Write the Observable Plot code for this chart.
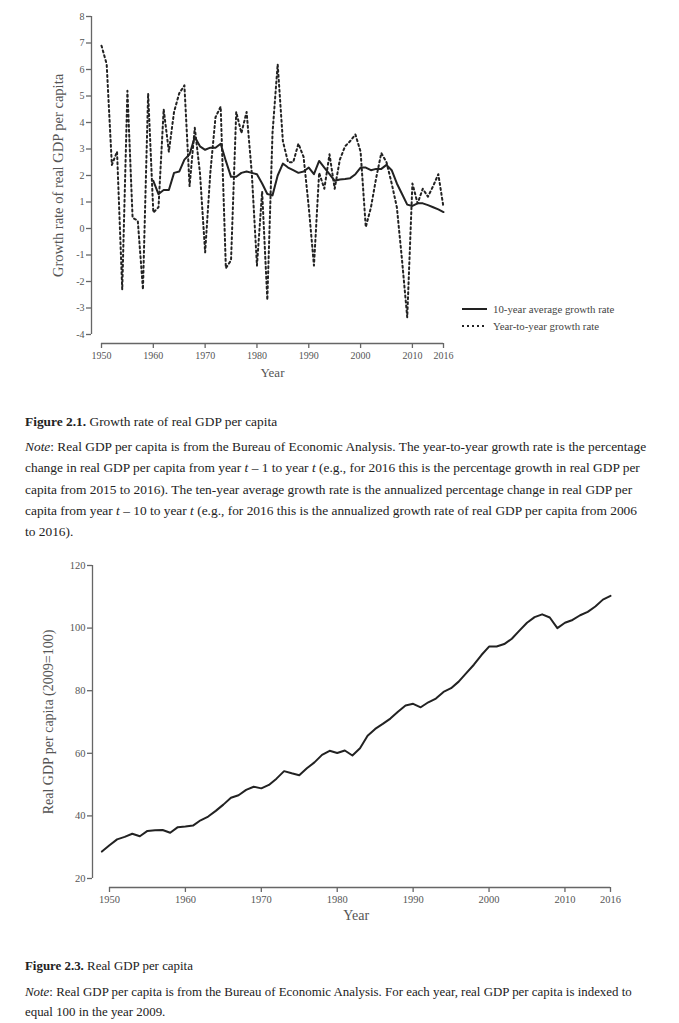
<!DOCTYPE html>
<html>
<head>
<meta charset="utf-8">
<script src="https://cdn.jsdelivr.net/npm/d3@7"></script>
<script src="https://cdn.jsdelivr.net/npm/@observablehq/plot@0.6"></script>
<style>
  html, body { margin: 0; padding: 0; background: #fff; }
  body { width: 679px; height: 1023px; position: relative; overflow: hidden; font-family: "Liberation Serif", serif; }
  #c1 { position: absolute; left: 0; top: 0; }
  #c2 { position: absolute; left: 0; top: 545px; }
  .cap { position: absolute; left: 25px; font-family: "Liberation Serif", serif; font-size: 13.4px; color: #222; white-space: nowrap; }
  .cap.small { font-size: 12.9px; }
  .cap b { font-weight: bold; }
  .legend { position: absolute; left: 462px; font-family: "Liberation Serif", serif; font-size: 10.8px; color: #444; white-space: nowrap; display: flex; align-items: center; }
  .legend svg { margin-right: 6px; }
</style>
</head>
<body>
<div id="c1"></div>
<div id="c2"></div>

<div class="legend" style="top:303px"><svg width="25" height="6"><line x1="0" x2="25" y1="3" y2="3" stroke="#222" stroke-width="2"/></svg>10-year average growth rate</div>
<div class="legend" style="top:320px"><svg width="25" height="6"><line x1="0" x2="25" y1="3" y2="3" stroke="#222" stroke-width="2" stroke-dasharray="2,3"/></svg>Year-to-year growth rate</div>

<div class="cap" style="top:411px;line-height:21.3px"><b>Figure 2.1.</b> Growth rate of real GDP per capita</div>
<div class="cap" style="top:436px;line-height:21.3px">
<div><i>Note</i>: Real GDP per capita is from the Bureau of Economic Analysis. The year-to-year growth rate is the percentage</div>
<div>change in real GDP per capita from year <i>t</i> – 1 to year <i>t</i> (e.g., for 2016 this is the percentage growth in real GDP per</div>
<div>capita from 2015 to 2016). The ten-year average growth rate is the annualized percentage change in real GDP per</div>
<div>capita from year <i>t</i> – 10 to year <i>t</i> (e.g., for 2016 this is the annualized growth rate of real GDP per capita from 2006</div>
<div>to 2016).</div>
</div>

<div class="cap small" style="top:956px;line-height:21px"><b>Figure 2.3.</b> Real GDP per capita</div>
<div class="cap small" style="top:982px;line-height:20px">
<div><i>Note</i>: Real GDP per capita is from the Bureau of Economic Analysis. For each year, real GDP per capita is indexed to</div>
<div>equal 100 in the year 2009.</div>
</div>

<script>
// ---- Figure 2.1 data ----
const yoyStart = 1950;
const yoyGrowth = [
  6.9, 6.2, 2.4, 2.9, -2.3, 5.2, 0.4, 0.3, -2.3, 5.1,
  0.6, 0.8, 4.5, 2.9, 4.4, 5.1, 5.4, 1.6, 3.8, 2.1,
  -0.9, 2.1, 4.2, 4.6, -1.5, -1.2, 4.4, 3.6, 4.4, 2.1,
  -1.4, 1.4, -2.7, 3.6, 6.2, 3.3, 2.5, 2.5, 3.2, 2.7,
  0.8, -1.4, 2.1, 1.5, 2.8, 1.5, 2.6, 3.1, 3.3, 3.55,
  2.9, 0.05, 0.8, 1.9, 2.85, 2.5, 1.7, 0.8, -1.2, -3.35,
  1.7, 0.95, 1.5, 1.2, 1.6, 2.05, 0.8
];
const avgStart = 1960;
const avg10Growth = [
  1.8, 1.3, 1.45, 1.45, 2.1, 2.15, 2.6, 2.8, 3.45, 3.1,
  2.97, 3.05, 3.05, 3.2, 2.55, 1.95, 1.95, 2.1, 2.15, 2.1,
  2.05, 1.7, 1.3, 1.25, 2.0, 2.45, 2.3, 2.2, 2.1, 2.15,
  2.3, 2.05, 2.55, 2.3, 2.05, 1.8, 1.85, 1.87, 1.9, 2.05,
  2.3, 2.3, 2.2, 2.25, 2.25, 2.4, 2.2, 1.7, 1.3, 0.9,
  0.85, 0.95, 0.95, 0.88, 0.8, 0.72, 0.62
];
const yTicks1 = [-4, -3, -2, -1, 0, 1, 2, 3, 4, 5, 6, 7, 8];
const xTicks = [1950, 1960, 1970, 1980, 1990, 2000, 2010, 2016];

// ---- Figure 2.3 data ----
const gdpStart = 1949;
const gdpIndex = [
  28.6,
  30.6, 32.5, 33.3, 34.3, 33.5, 35.2, 35.4, 35.5, 34.6, 36.4,
  36.6, 36.9, 38.6, 39.8, 41.6, 43.6, 45.8, 46.6, 48.3, 49.3,
  48.8, 49.9, 51.9, 54.3, 53.6, 53.0, 55.2, 57.1, 59.5, 60.8,
  60.1, 60.9, 59.3, 61.6, 65.6, 67.8, 69.4, 71.1, 73.3, 75.3,
  75.8, 74.7, 76.3, 77.5, 79.6, 80.8, 82.9, 85.6, 88.3, 91.4,
  94.1, 94.1, 94.9, 96.6, 99.2, 101.7, 103.5, 104.4, 103.4, 100.0,
  101.7, 102.6, 104.1, 105.2, 106.9, 109.1, 110.3
];
const yTicks2 = [20, 40, 60, 80, 100, 120];

const yoyData = yoyGrowth.map((v, i) => ({year: yoyStart + i, v}));
const avgData = avg10Growth.map((v, i) => ({year: avgStart + i, v}));
const gdpData = gdpIndex.map((v, i) => ({year: gdpStart + i, v}));

const fmt = d => String(d);
const axisColor = "#666";

const p1 = Plot.plot({
  width: 679, height: 390,
  marginLeft: 101, marginRight: 236, marginTop: 16, marginBottom: 56,
  style: {fontFamily: "Liberation Serif, serif", fontSize: "10px", color: "#555", background: "transparent", overflow: "visible"},
  x: {domain: [1950, 2016], axis: null},
  y: {domain: [-4, 8], axis: null},
  marks: [
    Plot.ruleX([1950], {y1: -4, y2: 8, dx: -10, stroke: axisColor, strokeWidth: 1.3}),
    Plot.axisY({ticks: yTicks1, tickFormat: fmt, dx: -10, tickSize: 5, tickPadding: 2, label: null, stroke: axisColor, strokeWidth: 1.3}),
    Plot.ruleY([-4], {x1: 1950, x2: 2016, dy: 9, stroke: axisColor, strokeWidth: 1.3}),
    Plot.axisX({ticks: xTicks, tickFormat: fmt, dy: 9, tickSize: 5, tickPadding: 3, label: null, stroke: axisColor, strokeWidth: 1.3}),
    Plot.line(yoyData, {x: "year", y: "v", stroke: "#222", strokeWidth: 2, strokeDasharray: "2,3"}),
    Plot.line(avgData, {x: "year", y: "v", stroke: "#222", strokeWidth: 2}),
    Plot.text(["Growth rate of real GDP per capita"], {frameAnchor: "left", textAnchor: "middle", rotate: -90, dx: -43, fontSize: 14.5, fill: "#555"}),
    Plot.text(["Year"], {frameAnchor: "bottom", textAnchor: "middle", dy: 42, fontSize: 13, fill: "#555"})
  ]
});
document.getElementById("c1").appendChild(p1);

const p2 = Plot.plot({
  width: 679, height: 385,
  marginLeft: 101.4, marginRight: 69, marginTop: 20, marginBottom: 52,
  style: {fontFamily: "Liberation Serif, serif", fontSize: "10.5px", color: "#555", background: "transparent", overflow: "visible"},
  x: {domain: [1949, 2016], axis: null},
  y: {domain: [20, 120], axis: null},
  marks: [
    Plot.ruleX([1949], {y1: 20, y2: 120, dx: -9.4, stroke: axisColor, strokeWidth: 1.3}),
    Plot.axisY({ticks: yTicks2, tickFormat: fmt, dx: -9.4, tickSize: 5, tickPadding: 2, label: null, stroke: axisColor, strokeWidth: 1.3}),
    Plot.ruleY([20], {x1: 1950, x2: 2016, dy: 9, stroke: axisColor, strokeWidth: 1.3}),
    Plot.axisX({ticks: xTicks, tickFormat: fmt, dy: 9, tickSize: 5, tickPadding: 3, label: null, stroke: axisColor, strokeWidth: 1.3}),
    Plot.line(gdpData, {x: "year", y: "v", stroke: "#222", strokeWidth: 2}),
    Plot.text(["Real GDP per capita (2009=100)"], {frameAnchor: "left", textAnchor: "middle", rotate: -90, dx: -53.4, fontSize: 14, fill: "#555"}),
    Plot.text(["Year"], {frameAnchor: "bottom", textAnchor: "middle", dy: 41, fontSize: 14, fill: "#555"})
  ]
});
document.getElementById("c2").appendChild(p2);
</script>
</body>
</html>
